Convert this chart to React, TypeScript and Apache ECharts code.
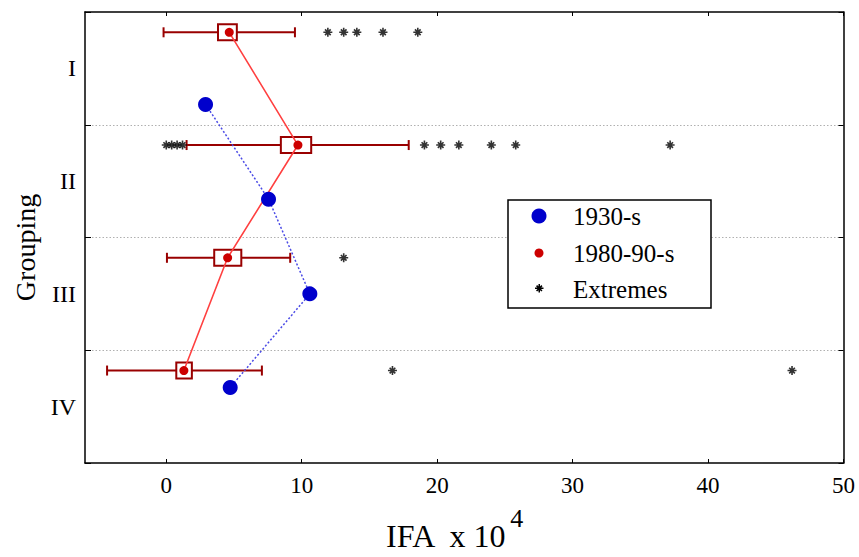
import React, { useEffect, useRef } from "react";
import * as echarts from "echarts";

const groups = ["I", "II", "III", "IV"];
const xTicks = [0, 10, 20, 30, 40, 50];
const groupCenters = [0.5, 1.5, 2.5, 3.5];
// vertical positions (within group bands, band k spans k..k+1)
const redY = [0.18, 1.18, 2.18, 3.18];
const blueY = [0.82, 1.66, 2.5, 3.33];
// 1930-s means
const blue1930 = [2.9, 7.55, 10.6, 4.72];
// 1980-90-s means
const red1980 = [4.65, 9.72, 4.53, 1.3];
const boxLow = [3.82, 8.46, 3.54, 0.74];
const boxHigh = [5.21, 10.7, 5.54, 1.89];
const whiskerLow = [-0.2, 1.5, 0.05, -4.37];
const whiskerHigh = [9.5, 17.9, 9.15, 7.06];
const extremesI = [11.93, 13.1, 14.07, 16.0, 18.57];
const extremesII = [0.0, 0.4, 0.8, 1.2, 19.06, 20.26, 21.6, 24.0, 25.8, 37.2];
const extremesIII = [13.1];
const extremesIV = [16.7, 46.2];
const legendNames = ["1930-s", "1980-90-s", "Extremes"];

const FONT = "'Liberation Serif', 'Times New Roman', serif";
const STAR_D =
  "M0,4.1 L10,4.1 L10,5.9 L0,5.9 Z M4.1,0 L5.9,0 L5.9,10 L4.1,10 Z M1.2,2.5 L2.5,1.2 L8.8,7.5 L7.5,8.8 Z M7.5,1.2 L8.8,2.5 L2.5,8.8 L1.2,7.5 Z";

let registered = false;

export default function App() {
  const ref = useRef<HTMLDivElement>(null);

  useEffect(() => {
    document.body.style.margin = "0";
    if (!registered) {
      echarts.graphic.registerShape("asterisk", echarts.graphic.extendPath(STAR_D, {}));
      registered = true;
    }
    const chart = echarts.init(ref.current!, undefined, { renderer: "svg" });

    const boxData = groups.map((_, i) => [redY[i], boxLow[i], boxHigh[i], whiskerLow[i], whiskerHigh[i]]);
    const extremes: number[][] = [];
    [extremesI, extremesII, extremesIII, extremesIV].forEach((arr, gi) =>
      arr.forEach((v) => extremes.push([v, redY[gi]]))
    );
    const boxColor = "#990000";

    const option: any = {
      animation: false,
      backgroundColor: "#fff",
      grid: { left: 85, right: 15.5, top: 12, bottom: 94, containLabel: false, outerBoundsMode: "none" },
      xAxis: [
        {
          type: "value",
          min: -6,
          max: 50,
          position: "bottom",
          axisLine: { show: true, onZero: false, lineStyle: { color: "#000", width: 1.5 } },
          axisTick: { show: true, inside: true, length: 4, customValues: xTicks, lineStyle: { color: "#000" } },
          axisLabel: {
            customValues: xTicks,
            fontFamily: FONT,
            fontSize: 23,
            color: "#000",
            margin: 11,
          },
          splitLine: { show: false },
          name: "{m|IFA  x 10}{s|4}",
          nameLocation: "middle",
          nameGap: 42,
          nameTextStyle: {
            padding: [0, 20, 0, 0],
            rich: {
              m: {
                fontFamily: FONT,
                fontSize: 32,
                lineHeight: 30,
                color: "#000",
                padding: [15, 0, 0, 0],
                verticalAlign: "top",
              },
              s: {
                fontFamily: FONT,
                fontSize: 26,
                lineHeight: 26,
                color: "#000",
                padding: [0, 0, 0, 4],
                verticalAlign: "top",
              },
            },
          },
        },
        {
          type: "value",
          min: -6,
          max: 50,
          position: "top",
          axisLine: { show: true, onZero: false, lineStyle: { color: "#000", width: 1.5 } },
          axisTick: { show: true, inside: true, length: 4, customValues: xTicks, lineStyle: { color: "#000" } },
          axisLabel: { show: false },
          splitLine: { show: false },
        },
      ],
      yAxis: [
        {
          type: "value",
          min: 0,
          max: 4,
          interval: 1,
          inverse: true,
          position: "left",
          axisLine: { show: true, onZero: false, lineStyle: { color: "#000", width: 1.5 } },
          axisTick: { show: true, inside: true, length: 6, lineStyle: { color: "#000" } },
          axisLabel: {
            customValues: groupCenters,
            formatter: (v: number) => groups[Math.round(v - 0.5)],
            fontFamily: FONT,
            fontSize: 24,
            color: "#000",
            margin: 9,
          },
          splitLine: {
            show: true,
            showMinLine: false,
            showMaxLine: false,
            lineStyle: { color: "#b0b0b0", width: 1, type: [1.5, 2] },
          },
          name: "Grouping",
          nameLocation: "middle",
          nameGap: 46,
          nameTextStyle: { fontFamily: FONT, fontSize: 28, color: "#000", padding: [0, 20, 0, 0] },
        },
        {
          type: "value",
          min: 0,
          max: 4,
          interval: 1,
          inverse: true,
          position: "right",
          axisLine: { show: true, onZero: false, lineStyle: { color: "#000", width: 1.5 } },
          axisTick: { show: true, inside: true, length: 5, lineStyle: { color: "#000" } },
          axisLabel: { show: false },
          splitLine: { show: false },
        },
      ],
      series: [
        {
          type: "custom",
          name: "box",
          xAxisIndex: 0,
          yAxisIndex: 0,
          z: 2,
          encode: { x: [1, 2, 3, 4], y: 0 },
          data: boxData,
          renderItem: (params: any, api: any) => {
            const y = api.value(0);
            const b1 = api.coord([api.value(1), y]);
            const b2 = api.coord([api.value(2), y]);
            const w1 = api.coord([api.value(3), y]);
            const w2 = api.coord([api.value(4), y]);
            const capH = 10;
            const boxH = 16;
            const st = { stroke: boxColor, lineWidth: 2, fill: null };
            return {
              type: "group",
              children: [
                { type: "line", shape: { x1: w1[0], y1: w1[1], x2: w2[0], y2: w2[1] }, style: st },
                { type: "line", shape: { x1: w1[0], y1: w1[1] - capH / 2, x2: w1[0], y2: w1[1] + capH / 2 }, style: st },
                { type: "line", shape: { x1: w2[0], y1: w2[1] - capH / 2, x2: w2[0], y2: w2[1] + capH / 2 }, style: st },
                {
                  type: "rect",
                  shape: { x: b1[0], y: b1[1] - boxH / 2, width: b2[0] - b1[0], height: boxH },
                  style: { stroke: boxColor, lineWidth: 2, fill: "#fff" },
                },
              ],
            };
          },
        },
        {
          type: "line",
          name: legendNames[1],
          z: 3,
          data: red1980.map((v, i) => [v, redY[i]]),
          symbol: "circle",
          symbolSize: 9,
          showSymbol: true,
          itemStyle: { color: "#cc0000" },
          lineStyle: { color: "#ff4040", width: 1.6 },
        },
        {
          type: "line",
          name: legendNames[0],
          z: 3,
          data: blue1930.map((v, i) => [v, blueY[i]]),
          symbol: "circle",
          symbolSize: 15,
          showSymbol: true,
          itemStyle: { color: "#0000cc" },
          lineStyle: { color: "#4a4ae6", width: 1.5, type: [2, 2] },
        },
        {
          type: "scatter",
          name: legendNames[2],
          z: 4,
          data: extremes,
          symbol: "path://" + STAR_D,
          symbolSize: 9,
          itemStyle: { color: "#000" },
        },
      ],
      graphic: [
        {
          type: "rect",
          z: 100,
          shape: { x: 508, y: 200, width: 203, height: 108 },
          style: { fill: "#fff", stroke: "#000", lineWidth: 1.5 },
        },
        { type: "circle", z: 101, shape: { cx: 539, cy: 216, r: 7.5 }, style: { fill: "#0000cc" } },
        { type: "circle", z: 101, shape: { cx: 539, cy: 253, r: 4.5 }, style: { fill: "#cc0000" } },
        { type: "asterisk", z: 101, x: 535, y: 284, scaleX: 0.85, scaleY: 0.85, style: { fill: "#000" } },
        {
          type: "text",
          z: 101,
          x: 573,
          y: 216,
          style: { text: legendNames[0], fontFamily: FONT, fontSize: 25, fill: "#000", verticalAlign: "middle" },
        },
        {
          type: "text",
          z: 101,
          x: 573,
          y: 253,
          style: { text: legendNames[1], fontFamily: FONT, fontSize: 25, fill: "#000", verticalAlign: "middle" },
        },
        {
          type: "text",
          z: 101,
          x: 573,
          y: 289,
          style: { text: legendNames[2], fontFamily: FONT, fontSize: 25, fill: "#000", verticalAlign: "middle" },
        },
      ],
    };

    chart.setOption(option);
    return () => chart.dispose();
  }, []);

  return <div ref={ref} style={{ width: 859, height: 557 }} />;
}
